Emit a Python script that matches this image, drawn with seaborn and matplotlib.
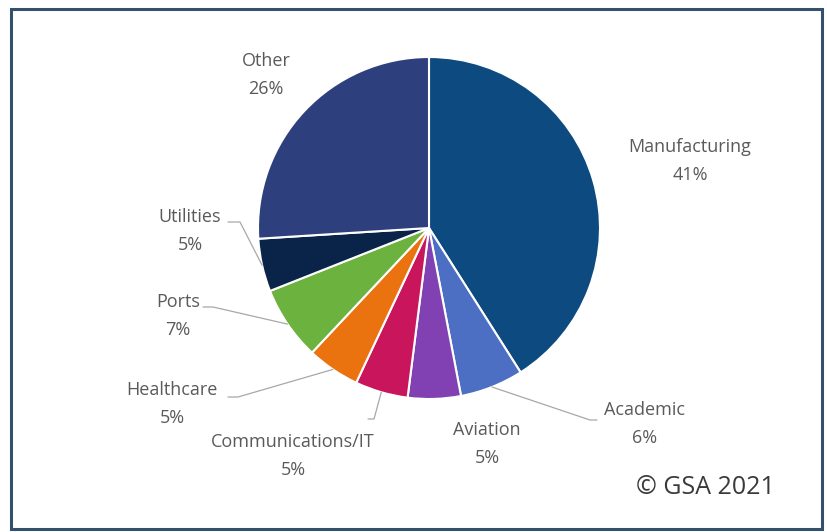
import matplotlib
matplotlib.use("Agg")
import matplotlib.pyplot as plt
import seaborn as sns
import numpy as np
from matplotlib.patches import Rectangle

# ---- data ----
categories = ["Manufacturing", "Academic", "Aviation", "Communications/IT",
              "Healthcare", "Ports", "Utilities", "Other"]
shares = [41, 6, 5, 5, 5, 7, 5, 26]
slice_colors = ["#0D4A7F", "#4C6FC3", "#8141B3", "#C8155B",
                "#EA730F", "#6CB23F", "#0A2449", "#2E3F7D"]
credit = "© GSA 2021"

# ---- layout (pixel positions of label blocks and leader elbows) ----
label_pos_px = [(690, 161), (645, 424), (487, 444), (293, 456),
                (172, 404), (178, 316), (190, 231), (266, 75)]
leader_px = [None,
             [(590, 420), (597, 420)],
             None,
             [(374, 419), (368, 419)],
             [(238, 397), (228, 397)],
             [(213, 307), (203, 307)],
             [(240, 222), (228, 222)],
             None]

sns.set_theme(style="white")
plt.rcParams['font.family'] = ['Open Sans', 'DejaVu Sans']

W, H = 827, 532
fig = plt.figure(figsize=(W / 100, H / 100), dpi=100)
fig.patch.set_facecolor("white")
cx, cy, R = 429, 228, 171
ax = fig.add_axes([(cx - R) / W, (H - cy - R) / H, 2 * R / W, 2 * R / H])

palette = sns.color_palette(slice_colors)
wedges, _ = ax.pie(shares, colors=palette, startangle=90, counterclock=False,
                   radius=1, wedgeprops=dict(edgecolor="white", linewidth=1.5))
ax.set_xlim(-1, 1)
ax.set_ylim(-1, 1)
ax.axis("off")


def to_data(p):
    return ((p[0] - cx) / R, (cy - p[1]) / R)


text_color = "#5A5A5A"
line_color = "#A8A8A8"
for w, name, val, pos, lead in zip(wedges, categories, shares, label_pos_px, leader_px):
    tx, ty = to_data(pos)
    ax.text(tx, ty, f"{name}\n{val}%", ha="center", va="center", fontsize=13,
            color=text_color, linespacing=1.65, clip_on=False)
    if lead is not None:
        mid = np.deg2rad((w.theta1 + w.theta2) / 2)
        xs = [np.cos(mid)]
        ys = [np.sin(mid)]
        for p in lead:
            dx, dy = to_data(p)
            xs.append(dx)
            ys.append(dy)
        ax.plot(xs, ys, color=line_color, lw=0.9, clip_on=False)

fig.text(705 / W, 1 - 487 / H, credit, ha="center", va="center",
         fontsize=18, color="#3A3A3A")

# frame around the figure
fig.patches.append(Rectangle((11 / W, 3 / H), (822 - 11) / W, (523 - 3) / H,
                             transform=fig.transFigure, fill=False,
                             edgecolor="#34506C", linewidth=2.2))

fig.savefig("out.png", dpi=100, facecolor="white")
